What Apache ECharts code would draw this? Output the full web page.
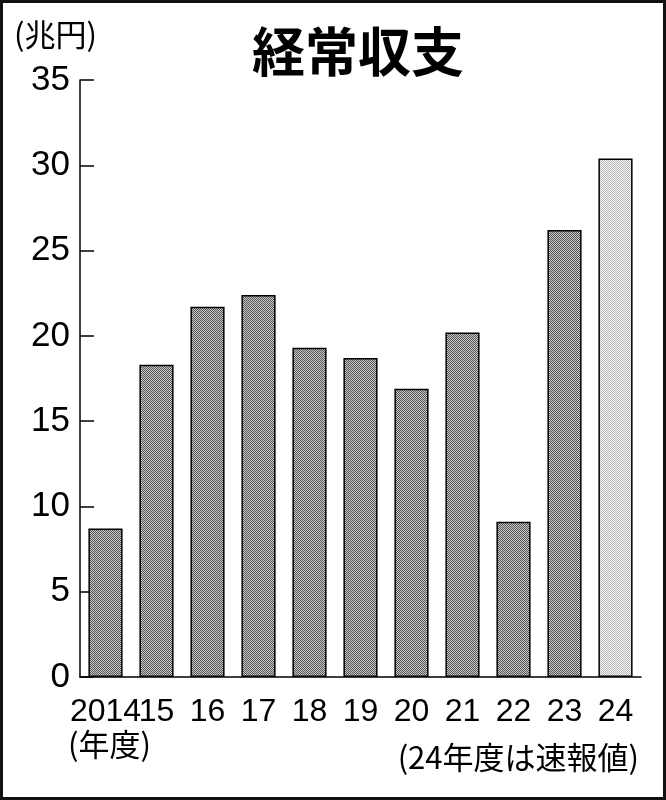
<!DOCTYPE html>
<html>
<head>
<meta charset="utf-8">
<script src="https://cdn.jsdelivr.net/npm/echarts@6/dist/echarts.min.js"></script>
<style>
body{margin:0;background:#fff}
#chart{width:666px;height:800px}
</style>
</head>
<body>
<div id="chart"></div>
<script>
// 年度と経常収支（兆円）
var years=['2014','15','16','17','18','19','20','21','22','23','24'];
var values=[8.7,18.3,21.7,22.4,19.3,18.7,16.9,20.2,9.1,26.2,30.4];
var prelimIndex=10; // 24年度は速報値

function makePattern(a,b){
  var c=document.createElement('canvas');
  c.width=2;c.height=2;
  var g=c.getContext('2d');
  g.fillStyle=b;g.fillRect(0,0,2,2);
  g.fillStyle=a;g.fillRect(0,0,1,1);g.fillRect(1,1,1,1);
  return c;
}
var darkFill={image:makePattern('#555555','#c8c8c8'),repeat:'repeat'};
var lightFill={image:makePattern('#bcbcbc','#f2f2f2'),repeat:'repeat'};

var barData=values.map(function(v,i){
  return {value:v,itemStyle:{color:i===prelimIndex?lightFill:darkFill}};
});

var myChart=echarts.init(document.getElementById('chart'));
var jp='"Noto Sans CJK JP",sans-serif';
var option={
  animation:false,
  graphic:[
    {type:'rect',shape:{x:1.5,y:1.5,width:663,height:797},style:{fill:null,stroke:'#111',lineWidth:3}},
    {type:'text',left:252,top:25,style:{text:'経常収支',fontSize:53,fontWeight:'bold',fontFamily:jp,fill:'#000'}},
    {type:'text',left:14,top:19,style:{text:'(兆円)',fontSize:31,fontFamily:jp,fill:'#000'}},
    {type:'text',left:68,top:729,style:{text:'(年度)',fontSize:31,fontFamily:jp,fill:'#000'}},
    {type:'text',right:27,top:742,style:{text:'(24年度は速報値)',fontSize:31,fontFamily:jp,fill:'#000'}}
  ],
  grid:{left:80,right:25,top:80,bottom:123},
  xAxis:{
    type:'category',
    data:years,
    axisLine:{lineStyle:{color:'#000',width:1.5}},
    axisTick:{show:false},
    axisLabel:{color:'#000',fontSize:32,fontFamily:'"Liberation Sans",sans-serif',margin:19,interval:0}
  },
  yAxis:{
    type:'value',
    min:0,max:35,interval:5,
    axisLine:{show:true,lineStyle:{color:'#000',width:1.5}},
    axisTick:{show:true,inside:true,length:14,lineStyle:{color:'#000',width:1.5}},
    axisLabel:{color:'#000',fontSize:35,fontFamily:'"Liberation Sans",sans-serif',margin:10},
    splitLine:{show:false}
  },
  series:[{
    type:'bar',
    data:barData,
    barCategoryGap:'33%',
    itemStyle:{borderColor:'#000',borderWidth:1.5}
  }]
};
myChart.setOption(option);
</script>
</body>
</html>
